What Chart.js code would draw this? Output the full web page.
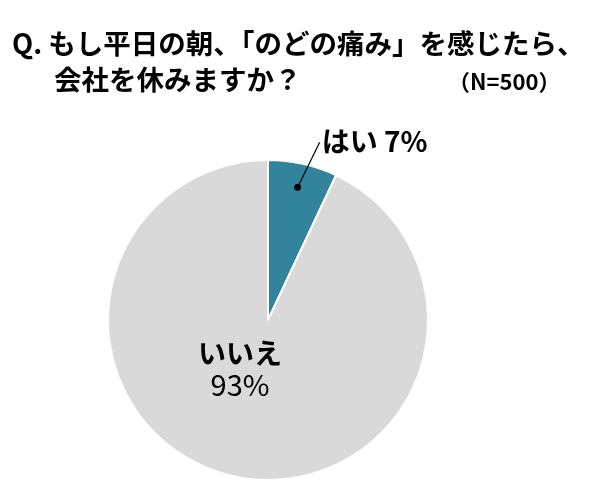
<!DOCTYPE html>
<html><head><meta charset="utf-8">
<script src="https://cdn.jsdelivr.net/npm/chart.js@4"></script>
<style>html,body{margin:0;padding:0;background:#fff}</style>
</head><body>
<canvas id="c" width="589" height="501"></canvas>
<script>
const categories = ["はい", "いいえ"];
const values = [7, 93];
const colors = ["#31849B", "#D9D9D9"];
const titleLine1 = "Q. もし平日の朝、「のどの痛み」を感じたら、";
const titleLine2 = "会社を休みますか？";
const sampleNote = "（N=500）";
const F = '"Noto Sans CJK JP", sans-serif';

const overlay = {
  id: 'overlay',
  afterDraw(chart) {
    const ctx = chart.ctx;
    ctx.save();
    ctx.fillStyle = '#000';
    ctx.textBaseline = 'middle';
    ctx.font = 'bold 27.5px ' + F;
    ctx.textAlign = 'left';
    ctx.fillText(titleLine1, 12, 44);
    ctx.fillText(titleLine2, 54, 80);
    ctx.font = 'bold 22px ' + F;
    ctx.fillText(sampleNote, 448, 82);
    const meta = chart.getDatasetMeta(0);
    const a0 = meta.data[0];
    const mid = (a0.startAngle + a0.endAngle) / 2;
    const px = a0.x + Math.cos(mid) * a0.outerRadius * 0.85;
    const py = a0.y + Math.sin(mid) * a0.outerRadius * 0.85;
    ctx.strokeStyle = '#000'; ctx.lineWidth = 1.2;
    ctx.beginPath(); ctx.moveTo(px, py); ctx.lineTo(px + 22, py - 45); ctx.stroke();
    ctx.beginPath(); ctx.arc(px, py, 3.5, 0, Math.PI * 2); ctx.fill();
    ctx.font = 'bold 28px ' + F;
    ctx.fillText(categories[0] + ' ' + values[0] + '%', px + 24, py - 46);
    const a1 = meta.data[1];
    ctx.textAlign = 'center';
    ctx.fillText(categories[1], a1.x - 28, a1.y + 33);
    ctx.font = '29px ' + F;
    ctx.fillText(values[1] + '%', a1.x - 28, a1.y + 65);
    ctx.restore();
  }
};

new Chart(document.getElementById('c'), {
  type: 'pie',
  data: { labels: categories, datasets: [{ data: values, backgroundColor: colors, borderColor: '#fff', borderWidth: 2 }] },
  options: {
    responsive: false, animation: false,
    layout: { padding: { left: 107, right: 160, top: 159, bottom: 20 } },
    plugins: { legend: { display: false }, tooltip: { enabled: false } }
  },
  plugins: [overlay]
});
</script>
</body></html>
